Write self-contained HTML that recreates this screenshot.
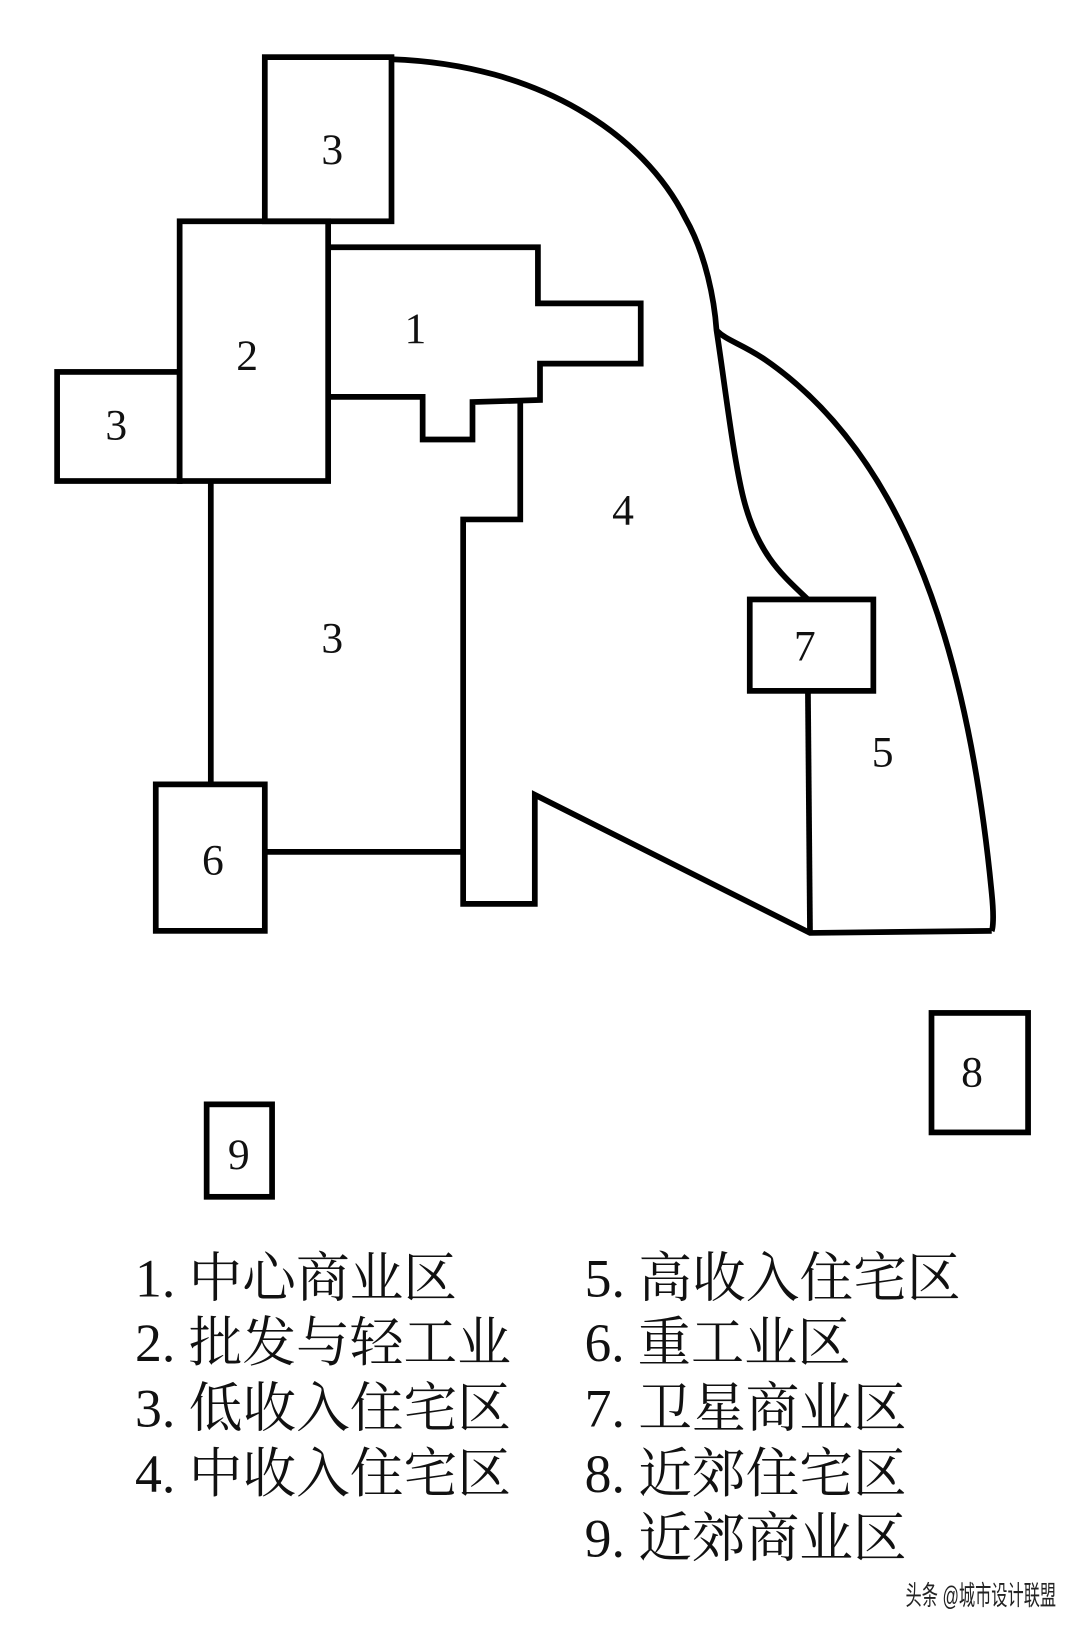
<!DOCTYPE html>
<html><head><meta charset="utf-8"><style>
html,body{margin:0;padding:0;background:#fff;}
svg{display:block;}
.n{font-family:"Liberation Serif","Noto Serif CJK SC",serif;font-size:42px;fill:#111;text-anchor:middle;}
.l{font-family:"Liberation Serif","Noto Serif CJK SC",serif;font-size:52px;fill:#111;}
.w{font-family:"Liberation Sans","Noto Sans CJK SC",sans-serif;font-size:26px;fill:#222;}
</style></head><body>
<svg width="1080" height="1629" viewBox="0 0 1040 1568" preserveAspectRatio="none" xmlns="http://www.w3.org/2000/svg">
<g fill="none" stroke="#000" stroke-width="5.5" stroke-linejoin="miter">
<rect x="255" y="55" width="122" height="158"/>
<rect x="173" y="213" width="143" height="250"/>
<rect x="55" y="358" width="118" height="105"/>
<path d="M316,238 L518,238 L518,292 L617,292 L617,350 L520,350 L520,385 L455,387 L455,423 L407,423 L407,382 L316,382"/>
<path d="M501,385 L501,500 L446,500 L446,870 L515,870 L515,765 L780,898 L955,896"/>
<path d="M377,57 C520,62 620,130 660,210 C680,245 688,290 690,318 C698,370 706,440 716,480 C730,535 755,555 778,577"/>
<path d="M690,318 C700,328 712,330 735,345 C860,430 930,600 955,860 C958,890 955,896 955,896"/>
<rect x="722" y="577" width="119" height="88"/>
<path d="M778,665 L780,898"/>
<path d="M203,463 L203,755"/>
<rect x="150" y="755" width="105" height="141"/>
<path d="M255,820 L446,820"/>
<rect x="897" y="975" width="93" height="115"/>
<rect x="199" y="1063" width="63" height="89"/>
</g>
<g class="n">
<text x="320" y="158">3</text>
<text x="238" y="356">2</text>
<text x="400" y="330">1</text>
<text x="112" y="423">3</text>
<text x="600" y="505">4</text>
<text x="320" y="628">3</text>
<text x="775" y="636">7</text>
<text x="850" y="738">5</text>
<text x="205" y="842">6</text>
<text x="936" y="1046">8</text>
<text x="230" y="1125">9</text>
</g>
<g class="l">
<text x="130" y="1248" textLength="310" lengthAdjust="spacingAndGlyphs">1. 中心商业区</text>
<text x="130" y="1310" textLength="362" lengthAdjust="spacingAndGlyphs">2. 批发与轻工业</text>
<text x="130" y="1373" textLength="362" lengthAdjust="spacingAndGlyphs">3. 低收入住宅区</text>
<text x="130" y="1436" textLength="362" lengthAdjust="spacingAndGlyphs">4. 中收入住宅区</text>
<text x="563" y="1248" textLength="362" lengthAdjust="spacingAndGlyphs">5. 高收入住宅区</text>
<text x="563" y="1310" textLength="256" lengthAdjust="spacingAndGlyphs">6. 重工业区</text>
<text x="563" y="1373" textLength="310" lengthAdjust="spacingAndGlyphs">7. 卫星商业区</text>
<text x="563" y="1436" textLength="310" lengthAdjust="spacingAndGlyphs">8. 近郊住宅区</text>
<text x="563" y="1498" textLength="310" lengthAdjust="spacingAndGlyphs">9. 近郊商业区</text>
</g>
<text class="w" x="872" y="1545" textLength="145" lengthAdjust="spacingAndGlyphs">头条 @城市设计联盟</text>
</svg>
</body></html>
